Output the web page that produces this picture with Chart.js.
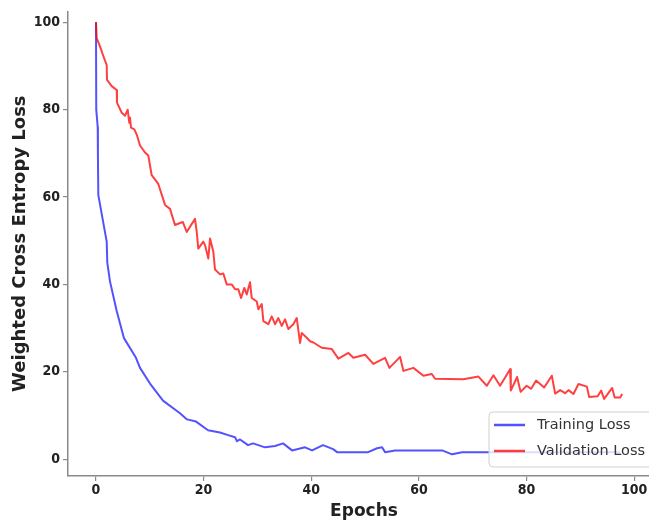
<!DOCTYPE html>
<html>
<head>
<meta charset="utf-8">
<script src="https://cdn.jsdelivr.net/npm/chart.js@4.4.1/dist/chart.umd.min.js"></script>
<style>
    html, body { margin: 0; padding: 0; background: #fff; overflow: hidden; }
    #wrap { width: 660px; height: 522px; }
</style>
</head>
<body>
<div id="wrap"><canvas id="lossChart"></canvas></div>
<script>
// values
const trainEpochs = [0, 0.05, 0.32, 0.36, 0.43, 1.99, 2.1, 2.6, 3.85, 5.2, 7.43, 8.18, 10.04, 12.45, 15.61, 16.91, 18.6,
    20.82, 23.05, 24.54, 25.84, 26.2, 26.77, 28.25, 29.18, 31.41, 33.27, 34.76, 36.43, 38.85, 40.15, 42.19, 44.05,
    44.8, 50.56, 52.23, 53.16, 53.72, 55.58, 64.31, 66.17, 68.03, 72.3, 97.4];
const trainLoss = [100, 80, 76, 69.5, 60.5, 49.8, 45, 40.7, 33.9, 27.7, 23.2, 20.9, 17.3, 13.4, 10.5, 9.1, 8.6,
    6.6, 6.1, 5.5, 5.0, 4.1, 4.5, 3.2, 3.6, 2.7, 3.0, 3.6, 2.0, 2.7, 2.0, 3.2, 2.3,
    1.6, 1.6, 2.5, 2.7, 1.6, 2.0, 2.0, 1.1, 1.6, 1.6, 1.6];

const valEpochs = [0, 0.13, 0.74, 1.36, 1.99, 2.05, 2.92, 3.85, 3.9, 4.78, 5.39, 5.89, 6.19, 6.32, 6.51, 7.12, 7.57,
    8.18, 9.11, 9.72, 10.35, 11.58, 12.83, 13.75, 14.68, 16.12, 16.86, 18.4, 18.72, 19.01, 19.94, 20.26, 20.87,
    21.19, 21.8, 22.12, 23.05, 23.66, 24.29, 25.22, 25.84, 26.45, 26.95, 27.57, 28.01, 28.62, 28.94, 29.87, 30.17,
    30.8, 31.1, 32.03, 32.66, 33.27, 33.88, 34.52, 35.13, 35.74, 36.67, 37.3, 37.92, 38.23, 39.16, 39.78, 40.4,
    41.95, 43.81, 45.04, 46.9, 47.83, 50, 51.54, 53.72, 54.52, 56.51, 57.12, 58.98, 60.84, 62.4, 63.01, 68.27,
    71.06, 72.62, 73.85, 75.09, 76.95, 77.08, 78.25, 78.9, 80.02, 80.86, 81.78, 83.27, 84.7, 85.32, 86.25, 87.17,
    87.79, 88.72, 89.65, 91.21, 91.64, 93.22, 93.87, 94.42, 95.91, 96.38, 97.4, 97.77];
const valLoss = [100, 96.4, 94.5, 92.3, 90.2, 86.8, 85.4, 84.5, 81.6, 79.3, 78.6, 80, 77, 78.2, 75.9, 75.5, 74.3,
    71.8, 70.2, 69.5, 65, 63, 58.2, 57.3, 53.6, 54.3, 52, 55, 52, 48.2, 49.8, 49, 45.9,
    50.5, 47.5, 43.4, 42.3, 42.5, 40, 40, 38.9, 38.9, 36.9, 39.2, 37.7, 40.5, 36.9, 36.1, 34.3,
    35.5, 31.6, 30.9, 32.7, 30.9, 32.3, 30.5, 32, 29.8, 30.9, 32.3, 26.6, 28.9, 27.8, 27, 26.7,
    25.5, 25.2, 23, 24.3, 23.2, 23.9, 21.8, 23.2, 20.9, 23.4, 20.2, 20.9, 19.1, 19.5, 18.4, 18.3,
    18.9, 16.8, 19.2, 16.8, 20.6, 15.7, 18.8, 15.4, 16.8, 16.1, 18, 16.4, 19.1, 15, 15.8, 15.1,
    15.8, 14.9, 17.2, 16.6, 14.2, 14.4, 15.7, 13.8, 16.3, 14.1, 14.1, 14.9];

const xTicks = [0, 20, 40, 60, 80, 100];
const yTicks = [0, 20, 40, 60, 80, 100];

const seriesLabels = ["Training Loss", "Validation Loss"];
const seriesColors = ["rgba(0,0,255,0.68)", "rgba(255,0,0,0.75)"];

function toPoints(xs, ys) {
    return xs.map((x, i) => ({ x: x, y: ys[i] }));
}

const spineColor = "#8a8a8a";
const tickFont = { family: "DejaVu Sans Condensed, DejaVu Sans", size: 14, weight: "bold" };
const titleFont = { family: "DejaVu Sans", size: 17, weight: "bold" };

// matplotlib-like legend box in the lower right of the plot
const boxLegend = {
    id: "boxLegend",
    afterDraw(chart) {
        const c = chart.ctx;
        const x = 489, y = 412, w = 190, h = 55;
        c.save();
        c.beginPath();
        c.roundRect(x, y, w, h, 4);
        c.fillStyle = "rgba(255,255,255,0.8)";
        c.fill();
        c.strokeStyle = "#d0d0d0";
        c.lineWidth = 1;
        c.stroke();
        c.font = "14.5px 'DejaVu Sans'";
        c.textBaseline = "middle";
        chart.data.datasets.forEach((ds, i) => {
            const ly = y + 13 + i * 26;
            c.strokeStyle = ds.borderColor;
            c.lineWidth = 2.5;
            c.beginPath();
            c.moveTo(494, ly);
            c.lineTo(525, ly);
            c.stroke();
            c.fillStyle = "#333";
            c.fillText(ds.label, 537, ly);
        });
        c.restore();
    }
};

new Chart(document.getElementById("lossChart"), {
    type: "line",
    data: {
        datasets: [
            {
                label: seriesLabels[0],
                data: toPoints(trainEpochs, trainLoss),
                borderColor: seriesColors[0],
                borderWidth: 2,
                pointRadius: 0,
                tension: 0,
                borderJoinStyle: "round",
                order: 1
            },
            {
                label: seriesLabels[1],
                data: toPoints(valEpochs, valLoss),
                borderColor: seriesColors[1],
                borderWidth: 2,
                pointRadius: 0,
                tension: 0,
                borderJoinStyle: "round",
                order: 0
            }
        ]
    },
    options: {
        responsive: true,
        maintainAspectRatio: false,
        animation: false,
        layout: { padding: { top: 8, right: 0, left: 0, bottom: 0 } },
        plugins: {
            legend: { display: false },
            tooltip: { enabled: false }
        },
        scales: {
            x: {
                type: "linear",
                min: -5.2,
                max: 104.8,
                afterBuildTicks: (s) => { s.ticks = xTicks.map(v => ({ value: v })); },
                afterFit: (s) => { s.height = 46; },
                grid: { drawOnChartArea: false, drawTicks: true, tickLength: 5, color: spineColor, lineWidth: 1.2 },
                border: { display: true, color: spineColor, width: 1.5 },
                ticks: { font: tickFont, color: "#222", padding: 1, maxRotation: 0 },
                title: { display: true, text: "Epochs", font: titleFont, color: "#222", padding: { top: 0, bottom: 0 } }
            },
            y: {
                min: -3.86,
                max: 102.5,
                afterBuildTicks: (s) => { s.ticks = yTicks.map(v => ({ value: v })); },
                afterFit: (s) => { s.width = 68; },
                grid: { drawOnChartArea: false, drawTicks: true, tickLength: 5, color: spineColor, lineWidth: 1.2 },
                border: { display: true, color: spineColor, width: 1.5 },
                ticks: { font: tickFont, color: "#222", padding: 3 },
                title: {
                    display: true,
                    text: "Weighted Cross Entropy Loss",
                    font: { family: "DejaVu Sans", size: 18, weight: "bold" },
                    color: "#222",
                    padding: { top: 10, bottom: 0 }
                }
            }
        }
    },
    plugins: [boxLegend]
});
</script>
</body>
</html>
